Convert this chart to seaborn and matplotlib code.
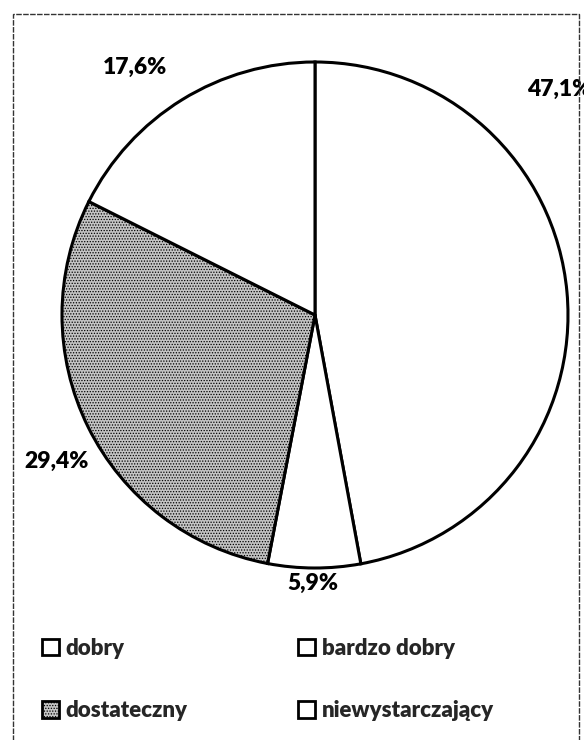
import matplotlib

matplotlib.use("Agg")
import matplotlib.pyplot as plt
import seaborn as sns
from matplotlib.patches import Patch, Rectangle

categories = ["dobry", "bardzo dobry", "dostateczny", "niewystarczający"]
shares = [47.1, 5.9, 29.4, 17.6]
pct_labels = ["47,1%", "5,9%", "29,4%", "17,6%"]

# label anchor points in pie units (radius = 1)
label_pos = [(0.84, 0.89), (-0.01, -1.06), (-1.02, -0.58), (-0.71, 0.98)]
label_ha = ["left", "center", "center", "center"]
face_colors = ["white", "white", "#c4c4c4", "white"]
hatches = [None, None, "......", None]

sns.set_theme(style="white")
plt.rcParams["font.family"] = ["Lato", "DejaVu Sans"]
plt.rcParams["hatch.color"] = "#4a4a4a"
plt.rcParams["hatch.linewidth"] = 0.6

fig = plt.figure(figsize=(5.84, 7.40), dpi=100)
ax = fig.add_axes([0, 0, 1, 1])

wedges, _ = ax.pie(
    shares,
    startangle=90,
    counterclock=False,
    colors=face_colors,
    wedgeprops={"edgecolor": "black", "linewidth": 2.2},
)
for wedge, hatch in zip(wedges, hatches):
    if hatch:
        wedge.set_hatch(hatch)

for text, (x, y), ha in zip(pct_labels, label_pos, label_ha):
    ax.text(x, y, text, ha=ha, va="center", fontsize=16.5, fontweight="heavy", color="black")

# centre at (315, 315) px, radius 253 px
ax.set_xlim(-315 / 253, (584 - 315) / 253)
ax.set_ylim((315 - 740) / 253, 315 / 253)
ax.set_aspect("auto")
ax.axis("off")

# scanned chart frame
frame = Rectangle(
    (13 / 584, -0.05), (579 - 13) / 584, 1.05 - 14 / 740,
    transform=fig.transFigure, fill=False, edgecolor="#333333",
    linewidth=1.0, linestyle=(0, (4, 1)), clip_on=False,
)
fig.add_artist(frame)

handles = [
    Patch(facecolor=c, edgecolor="black", linewidth=2.0, hatch=h, label=lab)
    for lab, c, h in zip(categories, face_colors, hatches)
]
order = [0, 2, 1, 3]
leg = fig.legend(
    [handles[i] for i in order],
    [categories[i] for i in order],
    ncol=2,
    loc="upper left",
    bbox_to_anchor=(42 / 584, 1 - 638 / 740),
    frameon=False,
    prop={"family": ["Lato", "DejaVu Sans"], "weight": "heavy", "size": 16},
    handlelength=0.75,
    handleheight=0.75,
    handletextpad=0.3,
    columnspacing=5.0,
    labelspacing=1.85,
    borderpad=0,
    borderaxespad=0,
)

fig.savefig("out.png", dpi=100)
